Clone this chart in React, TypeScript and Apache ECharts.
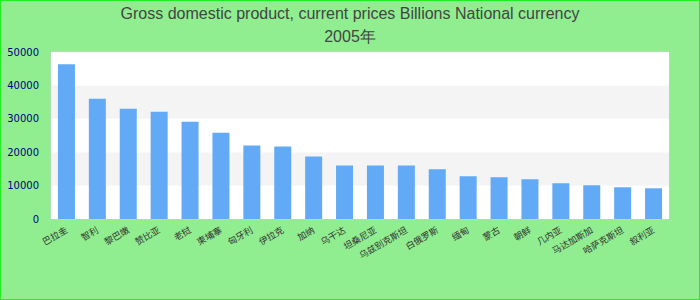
import React, { useEffect, useRef } from 'react';
import * as echarts from 'echarts';

const titleLine1 = 'Gross domestic product, current prices Billions National currency';
const titleLine2 = '2005年';

const categories = [
  '巴拉圭', '智利', '黎巴嫩', '赞比亚', '老挝', '柬埔寨', '匈牙利', '伊拉克', '加纳', '乌干达',
  '坦桑尼亚', '乌兹别克斯坦', '白俄罗斯', '缅甸', '蒙古', '朝鲜', '几内亚', '马达加斯加', '哈萨克斯坦', '叙利亚',
];

const values = [
  46300, 36000, 33000, 32100, 29100, 25800, 22000, 21700, 18700, 16000,
  16000, 16000, 14900, 12800, 12500, 11900, 10700, 10100, 9500, 9200,
];

const yMin = 0;
const yMax = 50000;
const yInterval = 10000;

export default function App() {
  const ref = useRef<HTMLDivElement>(null);

  useEffect(() => {
    if (!ref.current) return;
    const chart = echarts.init(ref.current, undefined, { renderer: 'svg' });
    chart.setOption({
      animation: false,
      backgroundColor: '#90ee90',
      title: {
        text: titleLine1 + '\n' + titleLine2,
        left: 'center',
        top: 1,
        padding: 0,
        textStyle: {
          fontFamily: 'Liberation Sans, Arial, sans-serif',
          fontSize: 16,
          fontWeight: 'normal',
          color: '#444',
          lineHeight: 23,
        },
      },
      grid: {
        left: 50,
        right: 30,
        top: 51,
        bottom: 80,
        show: true,
        borderColor: '#cccccc',
        borderWidth: 1,
        backgroundColor: '#ffffff',
      },
      xAxis: {
        type: 'category',
        data: categories,
        axisLine: { show: false },
        axisTick: { show: false },
        axisLabel: {
          interval: 0,
          rotate: 30,
          fontSize: 9,
          color: '#333',
          fontFamily: 'Noto Sans CJK SC',
          margin: 10,
        },
      },
      yAxis: {
        type: 'value',
        min: yMin,
        max: yMax,
        interval: yInterval,
        axisLine: { show: false },
        axisTick: { show: false },
        splitLine: { show: false },
        splitArea: { show: true, areaStyle: { color: ['#ffffff', '#f4f4f4'] } },
        axisLabel: {
          fontSize: 10,
          color: '#000080',
          fontFamily: 'DejaVu Sans',
          margin: 12,
          formatter: (v: number) => String(v),
        },
      },
      series: [
        {
          type: 'bar',
          data: values,
          barWidth: 17,
          itemStyle: { color: '#62aaf5' },
        },
      ],
    });
    return () => chart.dispose();
  }, []);

  return (
    <div
      style={{
        position: 'fixed',
        left: 0,
        top: 0,
        width: 700,
        height: 300,
        boxSizing: 'border-box',
        border: '1px solid #22ee22',
        background: '#90ee90',
      }}
    >
      <div ref={ref} style={{ width: 698, height: 298 }} />
    </div>
  );
}
